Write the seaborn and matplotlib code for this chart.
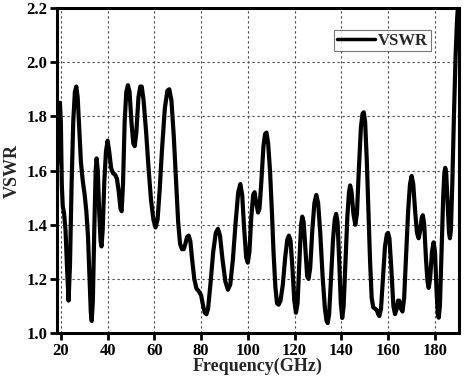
import matplotlib
matplotlib.use("Agg")
import matplotlib.pyplot as plt
import seaborn as sns
import pandas as pd

freq = [18.4, 18.8, 19.2, 19.6, 20.0, 20.4, 20.8, 21.4, 22.0, 22.6, 23.3, 23.9, 24.6, 25.3, 26.0,
        26.6, 27.2, 27.8, 28.6, 29.4, 30.2, 30.9, 31.6, 32.2, 32.8, 33.2, 33.7, 34.3, 34.9, 35.3,
        35.8, 36.4, 37.0, 37.4, 37.9, 38.6, 39.3, 40.0, 40.7, 41.5, 42.3, 43.2, 44.0, 44.8, 45.5,
        46.0, 46.6, 47.3, 48.0, 48.7, 49.4, 50.2, 51.0, 51.6, 52.3, 53.2, 54.0, 54.6, 55.4, 56.5,
        57.6, 58.6, 59.6, 60.5, 61.4, 62.3, 63.3, 64.5, 65.6, 66.4, 67.3, 68.3, 69.3, 70.2, 71.0,
        71.8, 72.6, 73.3, 74.0, 74.7, 75.4, 76.2, 77.1, 78.0, 79.0, 80.0, 80.9, 81.6, 82.3, 83.0,
        84.0, 85.2, 86.3, 87.2, 88.1, 89.2, 90.4, 91.5, 92.5, 93.6, 94.8, 95.9, 96.8, 97.6, 98.4,
        99.3, 100.0, 100.7, 101.5, 102.3, 102.9, 103.6, 104.4, 105.0, 105.8, 106.7, 107.4, 108.0,
        108.7, 109.5, 110.3, 111.0, 111.8, 112.5, 113.2, 114.0, 115.0, 116.0, 116.9, 117.6, 118.3,
        119.1, 119.9, 120.6, 121.3, 122.1, 122.8, 123.3, 123.9, 124.7, 125.4, 126.0, 126.7, 127.6,
        128.5, 129.3, 130.1, 131.0, 132.0, 133.0, 133.7, 134.2, 134.8, 135.6, 136.5, 137.2, 137.8,
        138.4, 139.1, 139.8, 140.4, 141.0, 141.8, 142.6, 143.3, 143.8, 144.4, 145.2, 146.0, 146.7,
        147.5, 148.4, 149.1, 149.6, 150.2, 150.9, 151.6, 152.3, 153.0, 153.7, 154.5, 155.2, 155.8,
        156.3, 157.0, 157.8, 158.7, 159.5, 160.0, 160.6, 161.4, 162.3, 163.0, 163.7, 164.3, 164.8,
        165.5, 166.2, 166.9, 167.8, 168.6, 169.4, 170.1, 170.8, 171.6, 172.4, 173.1, 173.8, 174.4,
        174.9, 175.5, 176.2, 176.9, 177.4, 178.0, 178.8, 179.5, 180.1, 180.8, 181.3, 181.7, 182.2,
        182.9, 183.6, 184.1, 184.5, 184.9, 185.5, 186.1, 186.5, 186.9, 187.5, 188.2, 188.9, 189.5,
        190.0]
vswr = [1.62, 1.70, 1.82, 1.85, 1.78, 1.55, 1.47, 1.44, 1.38, 1.25, 1.12, 1.25, 1.55, 1.78, 1.89,
        1.91, 1.87, 1.77, 1.63, 1.56, 1.51, 1.45, 1.36, 1.22, 1.08, 1.045, 1.12, 1.38, 1.60, 1.645,
        1.60, 1.45, 1.34, 1.32, 1.38, 1.56, 1.67, 1.71, 1.67, 1.61, 1.59, 1.585, 1.57, 1.52, 1.46,
        1.45, 1.55, 1.78, 1.89, 1.915, 1.89, 1.78, 1.70, 1.69, 1.74, 1.87, 1.91, 1.91, 1.86, 1.74,
        1.60, 1.49, 1.42, 1.39, 1.42, 1.53, 1.68, 1.83, 1.895, 1.90, 1.86, 1.73, 1.56, 1.41, 1.33,
        1.31, 1.31, 1.33, 1.355, 1.36, 1.34, 1.27, 1.20, 1.165, 1.155, 1.14, 1.10, 1.075, 1.07, 1.09,
        1.18, 1.30, 1.37, 1.385, 1.36, 1.27, 1.19, 1.16, 1.18, 1.27, 1.41, 1.52, 1.55, 1.51, 1.39,
        1.28, 1.26, 1.30, 1.43, 1.51, 1.52, 1.48, 1.445, 1.46, 1.56, 1.69, 1.735, 1.74,
        1.70, 1.60, 1.45, 1.30, 1.17, 1.11, 1.105, 1.12, 1.18, 1.28, 1.345, 1.36, 1.34,
        1.24, 1.12, 1.075, 1.11, 1.27, 1.40, 1.43, 1.41, 1.30, 1.21, 1.20, 1.24, 1.38,
        1.48, 1.51, 1.48, 1.37, 1.21, 1.09, 1.045, 1.037, 1.07, 1.20, 1.35, 1.42, 1.44,
        1.41, 1.27, 1.11, 1.056, 1.10, 1.27, 1.43, 1.52, 1.545, 1.52, 1.44, 1.40, 1.44,
        1.60, 1.76, 1.81, 1.815, 1.78, 1.64, 1.46, 1.27, 1.13, 1.095, 1.09, 1.085, 1.07,
        1.063, 1.09, 1.20, 1.32, 1.365, 1.37, 1.35, 1.24, 1.10, 1.07, 1.09, 1.12, 1.12,
        1.09, 1.08, 1.13, 1.30, 1.45, 1.55, 1.58, 1.55, 1.45, 1.37, 1.35, 1.38, 1.425,
        1.435, 1.40, 1.28, 1.19, 1.167, 1.20, 1.30, 1.335, 1.30, 1.15, 1.07, 1.057, 1.10,
        1.30, 1.50, 1.59, 1.61, 1.59, 1.48, 1.37, 1.35, 1.38, 1.55, 1.80, 2.02, 2.15,
        2.22]

x_ticks = [20, 40, 60, 80, 100, 120, 140, 160, 180]
y_ticks = [1.0, 1.2, 1.4, 1.6, 1.8, 2.0, 2.2]

sns.set_style("ticks")
plt.rcParams['font.family'] = ['Liberation Serif', 'DejaVu Serif']
plt.rcParams['font.weight'] = 'bold'

df = pd.DataFrame({"Frequency": freq, "VSWR": vswr})

fig = plt.figure(figsize=(4.74, 3.79), dpi=100)
ax = fig.add_axes([0.120, 0.121, 0.848, 0.858])

sns.lineplot(data=df, x="Frequency", y="VSWR", ax=ax, color="black", linewidth=3.0,
             sort=False, estimator=None, label="VSWR")

ax.set_xlim(18.3, 190.3)
ax.set_ylim(1.0, 2.2)
ax.set_xticks(x_ticks)
ax.set_yticks(y_ticks)
ax.set_xticklabels([str(t) for t in x_ticks], fontsize=12, fontweight='bold')
ax.set_yticklabels([f"{t:.1f}" for t in y_ticks], fontsize=12, fontweight='bold')
ax.grid(True, color="#444444", linestyle=(0, (2, 2.5)), linewidth=0.8)
ax.set_axisbelow(True)

for s in ax.spines.values():
    s.set_linewidth(2.2)
    s.set_color("black")
ax.tick_params(axis='both', direction='out', length=5, width=2, pad=2, colors='black')

ax.set_xlabel("Frequency(GHz)", fontsize=13, fontweight='bold', labelpad=-1)
ax.set_ylabel("VSWR", fontsize=13, fontweight='bold', labelpad=4)

leg = ax.legend(loc="upper right", bbox_to_anchor=(0.930, 0.932), borderaxespad=0,
                frameon=True, fancybox=False,
                handlelength=2.3, handletextpad=0.2, borderpad=0.15,
                prop={'family': 'Liberation Serif', 'weight': 'bold', 'size': 12})
leg.get_frame().set_edgecolor("#555555")
leg.get_frame().set_linewidth(0.8)
leg.get_lines()[0].set_linewidth(2.5)

fig.savefig("out.png", dpi=100)
